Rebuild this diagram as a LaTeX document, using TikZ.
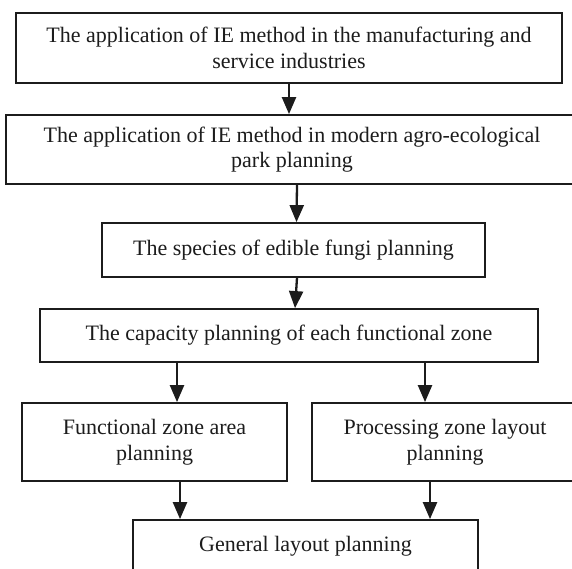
\documentclass[tikz,border=0pt]{standalone}
\usepackage{fontspec}
\setmainfont{Liberation Serif}
\usetikzlibrary{arrows.meta}
\definecolor{ink}{HTML}{1C1C1C}
\begin{document}
\begin{tikzpicture}[x=1pt,y=-1pt,
  box/.style={draw=ink, line width=1.8pt, inner sep=0pt, align=center,
    text=ink, font=\fontsize{22}{25.5}\selectfont},
  arr/.style={draw=ink, line width=2.3pt, -{Triangle[width=14pt,length=17pt]}}]
\useasboundingbox (0,0) rectangle (572,569);
\clip (0,0) rectangle (572,569);
\fill[white] (0,0) rectangle (572,569);

% flow boxes
\node[box, minimum width=546pt, minimum height=70pt] (app) at (289,48)
  {The application of IE method in the manufacturing and\\service industries};
\node[box, minimum width=572pt, minimum height=69pt] (park) at (292,149.5)
  {The application of IE method in modern agro-ecological\\park planning};
\node[box, minimum width=383pt, minimum height=54pt] (fungi) at (293.5,250)
  {The species of edible fungi planning};
\node[box, minimum width=498pt, minimum height=53pt] (cap) at (289,335.5)
  {The capacity planning of each functional zone};
\node[box, minimum width=265pt, minimum height=78pt] (area) at (154.5,442)
  {Functional zone area\\planning};
\node[box, minimum width=266pt, minimum height=78pt] (proc) at (445,442)
  {Processing zone layout\\planning};
\node[box, minimum width=345pt, minimum height=52pt] (gen) at (305.5,546)
  {General layout planning};

% connector end points
\coordinate (a1) at (app.south);
\coordinate (b1) at (app.south |- park.north);
\coordinate (a2) at ([xshift=5pt]park.south);
\coordinate (b2) at ([xshift=3pt]fungi.north);
\coordinate (a3) at ([xshift=3.5pt]fungi.south);
\coordinate (b3) at ([xshift=6pt]cap.north);
\coordinate (a4) at ([xshift=-112pt]cap.south);
\coordinate (b4) at ([xshift=22.5pt]area.north);
\coordinate (a5) at ([xshift=136pt]cap.south);
\coordinate (b5) at ([xshift=-20pt]proc.north);
\coordinate (a6) at ([xshift=25.5pt]area.south);
\coordinate (b6) at (a6 |- gen.north);
\coordinate (a7) at ([xshift=-15pt]proc.south);
\coordinate (b7) at (a7 |- gen.north);

\draw[arr] (a1) -- (b1);
\draw[arr] (a2) -- (b2);
\draw[arr] (a3) -- (b3);
\draw[arr] (a4) -- (b4);
\draw[arr] (a5) -- (b5);
\draw[arr] (a6) -- (b6);
\draw[arr] (a7) -- (b7);
\end{tikzpicture}
\end{document}
